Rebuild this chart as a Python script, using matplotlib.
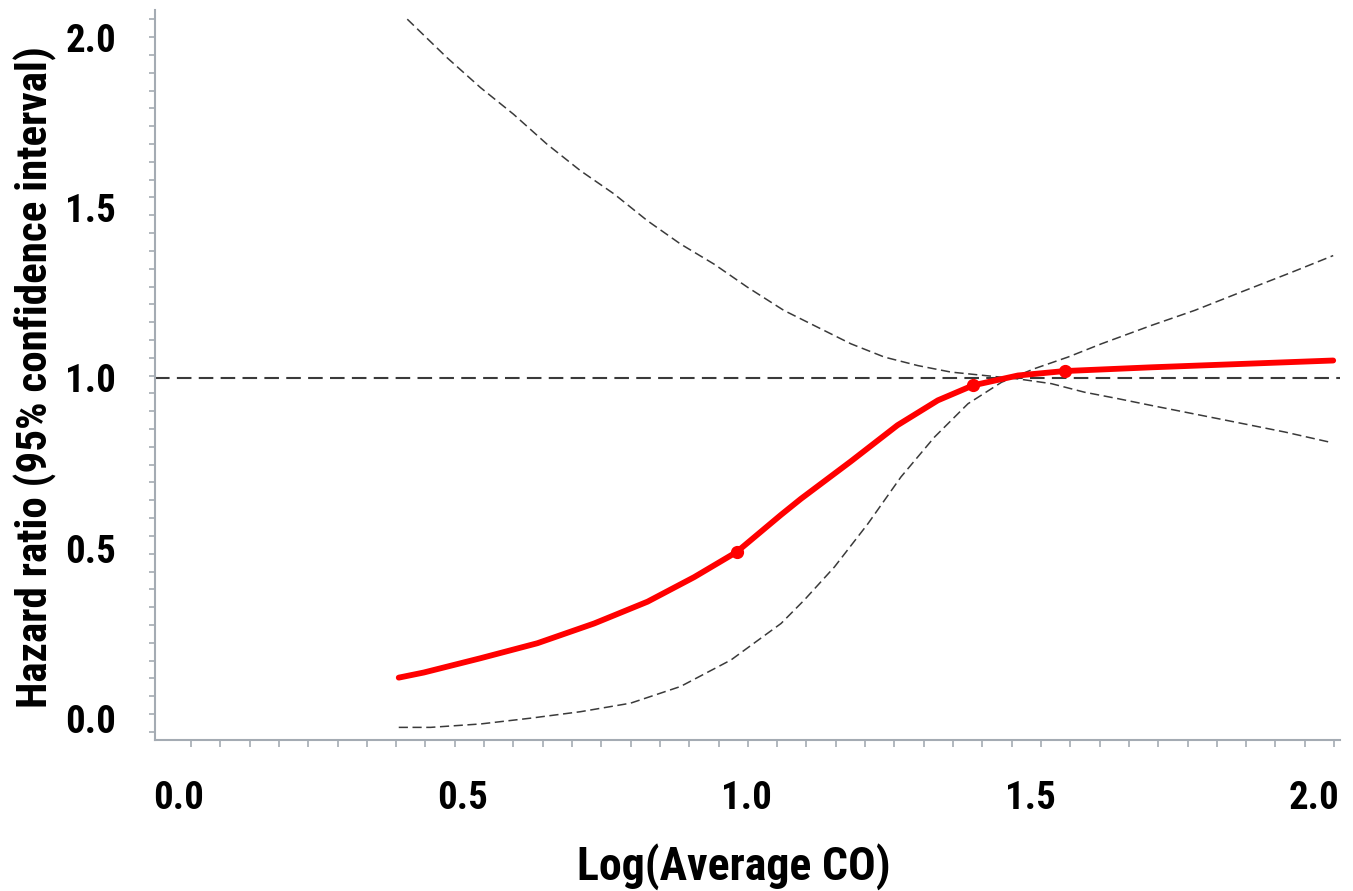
#!/usr/bin/env python3
# -*- coding: utf-8 -*-

"""
Restricted cubic spline: hazard ratio vs Log(Average CO)
"""

import numpy as np
import matplotlib
matplotlib.use("Agg")
import matplotlib.pyplot as plt
from matplotlib import font_manager
from matplotlib.font_manager import FontProperties


# Hazard ratio estimate (red curve)
hr_x = [0.388, 0.432, 0.532, 0.632, 0.732, 0.826, 0.908, 0.983, 1.061, 1.096,
        1.184, 1.266, 1.337, 1.399, 1.478, 1.560, 1.713, 2.033]
hr_y = [0.120, 0.135, 0.177, 0.221, 0.279, 0.343, 0.415, 0.489, 0.598, 0.645,
        0.755, 0.861, 0.934, 0.978, 1.007, 1.020, 1.031, 1.051]

# knots marked on the curve
knot_x = [0.983, 1.399, 1.560]
knot_y = [0.489, 0.978, 1.020]

# confidence band, branch starting at the top left
ci_a_x = [0.403, 0.473, 0.532, 0.590, 0.649, 0.708, 0.767, 0.826, 0.884, 0.943,
          1.002, 1.066, 1.125, 1.184, 1.243, 1.302, 1.360, 1.419, 1.478, 1.537,
          1.595, 1.654, 1.713, 1.831, 1.948, 2.025]
ci_a_y = [2.053, 1.940, 1.852, 1.774, 1.686, 1.608, 1.540, 1.461, 1.393, 1.334,
          1.266, 1.198, 1.149, 1.100, 1.061, 1.036, 1.017, 1.007, 0.997, 0.983,
          0.958, 0.939, 0.919, 0.880, 0.841, 0.812]

# confidence band, branch starting at the bottom left
ci_b_x = [0.388, 0.444, 0.532, 0.620, 0.708, 0.796, 0.884, 0.973, 1.061, 1.102,
          1.155, 1.214, 1.272, 1.331, 1.390, 1.449, 1.507, 1.566, 1.625, 1.713,
          1.789, 1.877, 1.960, 2.033]
ci_b_y = [-0.026, -0.026, -0.016, 0.001, 0.020, 0.045, 0.094, 0.172, 0.279, 0.348,
          0.445, 0.572, 0.709, 0.826, 0.924, 0.987, 1.027, 1.061, 1.100, 1.154,
          1.198, 1.256, 1.310, 1.359]

ref_hr = 1.0
tick_vals = [0.0, 0.5, 1.0, 1.5, 2.0]
tick_labels = ["0.0", "0.5", "1.0", "1.5", "2.0"]


def narrow_bold_font():
    """Look for a narrow bold sans (Calibri-like look); None if there is none"""
    fonts = font_manager.fontManager.ttflist
    for want in ("Liberation Sans Narrow", "Roboto Condensed", "Open Sans Condensed",
                 "Noto Sans Condensed", "DejaVu Sans Condensed"):
        for f in fonts:
            if f.name.startswith(want) and f.weight in (700, 'bold') and f.style == 'normal':
                return f.fname
    for f in fonts:
        narrow = 'condensed' in str(f.stretch) or 'Narrow' in f.name or 'Condensed' in f.name
        if narrow and f.weight in (700, 'bold') and f.style == 'normal':
            return f.fname
    return None


def main():
    fname = narrow_bold_font()
    if fname:
        def fp(size):
            return FontProperties(fname=fname, size=size)
        tick_size, xlab_size, ylab_size = 28, 33, 31
    else:
        def fp(size):
            return FontProperties(family='Liberation Sans', weight='bold', size=size)
        tick_size, xlab_size, ylab_size = 24, 28, 25.5

    fig = plt.figure(figsize=(13.53, 8.91), dpi=100)
    ax = fig.add_axes([0.1146, 0.1695, 0.8758, 0.8193])

    axis_gray = '#a4abb3'
    line_gray = '#3a3a3a'

    ax.axhline(ref_hr, color=line_gray, lw=1.5, dashes=(7, 3.5), zorder=2)
    ax.plot(ci_a_x, ci_a_y, color=line_gray, lw=1.1, dashes=(6, 3), zorder=3)
    ax.plot(ci_b_x, ci_b_y, color=line_gray, lw=1.1, dashes=(6, 3), zorder=3)
    ax.plot(hr_x, hr_y, color='#ff0000', lw=4.2, solid_capstyle='round',
            solid_joinstyle='round', zorder=4)
    ax.plot(knot_x, knot_y, 'o', color='#ff0000', ms=8.5, zorder=5)

    ax.set_xlim(-0.041, 2.045)
    ax.set_ylim(-0.063, 2.080)

    for side in ('top', 'right'):
        ax.spines[side].set_visible(False)
    for side in ('left', 'bottom'):
        ax.spines[side].set_color(axis_gray)
        ax.spines[side].set_linewidth(1.5)

    # labels sit on the 0.5 grid, the small tick marks run on their own spacing
    ax.set_xticks(tick_vals)
    ax.set_xticklabels(tick_labels)
    ax.set_yticks(tick_vals)
    ax.set_yticklabels(tick_labels)
    ax.set_xticks(np.arange(0.0222, 2.04, 0.0516), minor=True)
    ax.set_yticks(np.arange(-0.0393, 2.07, 0.0523), minor=True)

    ax.tick_params(axis='both', which='major', length=0)
    ax.tick_params(axis='x', which='major', pad=29)
    ax.tick_params(axis='y', which='major', pad=28)
    ax.tick_params(axis='x', which='minor', length=5, width=1.2, color=axis_gray)
    ax.tick_params(axis='y', which='minor', length=4, width=1.2, color=axis_gray)
    for lab in ax.get_xticklabels() + ax.get_yticklabels():
        lab.set_fontproperties(fp(tick_size))

    fig.text(0.542, 0.028, "Log(Average CO)", fontproperties=fp(xlab_size),
             ha='center', va='center')
    fig.text(0.026, 0.577, "Hazard ratio (95% confidence interval)",
             fontproperties=fp(ylab_size), rotation=90, ha='center', va='center')

    fig.savefig("out.png", dpi=100, facecolor='white')
    plt.close('all')


if __name__ == '__main__':
    main()
